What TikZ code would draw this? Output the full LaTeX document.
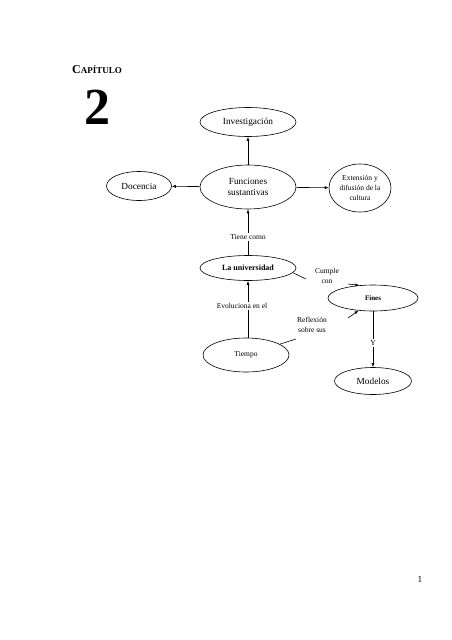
\documentclass[tikz,border=0pt]{standalone}
\usepackage{fontspec}
\setmainfont{Liberation Serif}
\usetikzlibrary{arrows.meta,shapes.geometric}
\begin{document}
\begin{tikzpicture}[x=1pt,y=-1pt,
  ell/.style={draw, ellipse, inner sep=0pt, line width=0.6pt},
  big/.style={font=\fontsize{9.3}{11.5}\selectfont, align=center},
  small/.style={font=\fontsize{7.5}{10}\selectfont, align=center},
  lbl/.style={small, fill=white, inner sep=1.5pt},
  conn/.style={line width=0.6pt},
  arr/.style={conn, -{Latex[length=4pt,width=3pt]}},
]
\useasboundingbox (0,0) rectangle (452,640);
\node[anchor=base west, inner sep=0pt, font=\bfseries] (cap) at (72,73) {\fontsize{12}{12}\selectfont C\fontsize{9}{9}\selectfont APÍTULO};
\node[font=\bfseries\fontsize{52}{52}\selectfont, inner sep=0pt] (num) at (97,107) {2};

\node[ell, big, minimum width=96pt, minimum height=29pt] (inv) at (248,122) {Investigación};
\node[ell, big, minimum width=96pt, minimum height=44pt] (fun) at (248,187) {Funciones\\sustantivas};
\node[ell, big, minimum width=65pt, minimum height=29pt] (doc) at (139,186) {Docencia};
\node[ell, small, minimum width=62pt, minimum height=48pt] (ext) at (360,188) {Extensión y\\difusión de la\\cultura};
\node[ell, font=\bfseries\fontsize{8}{10}\selectfont, minimum width=96pt, minimum height=25pt] (univ) at (248,268) {La universidad};
\node[ell, font=\bfseries\fontsize{7}{9}\selectfont, minimum width=90pt, minimum height=26pt] (fines) at (373,298) {Fines};
\node[ell, small, minimum width=86pt, minimum height=34pt] (tiempo) at (246,355) {Tiempo};
\node[ell, big, minimum width=77pt, minimum height=27pt] (mod) at (373,381) {Modelos};

\coordinate (c1) at (306,279);
\coordinate (c2) at (348,284);
\coordinate (c3) at (296,339);
\coordinate (c4) at (348,318);

\draw[arr] (fun) -- (inv);
\draw[arr] (fun) -- (doc);
\draw[arr] (fun) -- (ext);
\draw[arr] (univ) -- (fun);
\draw[arr] (tiempo.north -| univ.south) -- (univ.south);
\draw[arr] (fines) -- (mod);
\draw[conn] (univ.-6) -- (c1);
\draw[arr] (c2) -- (fines.137);
\draw[conn] (tiempo) -- (c3);
\draw[arr] (c4) -- (fines.221);

\node[lbl] (tiene) at (248,237) {Tiene como};
\node[lbl] (evol) at (242,306) {Evoluciona en el};
\node[lbl] (y) at (373,343) {Y};
\node[small] (cumple) at (327,276) {Cumple\\con};
\node[small] (reflex) at (312,325) {Reflexión\\sobre sus};

\node[font=\fontsize{9.3}{11}\selectfont] (pg) at (420,579) {1};
\end{tikzpicture}
\end{document}
